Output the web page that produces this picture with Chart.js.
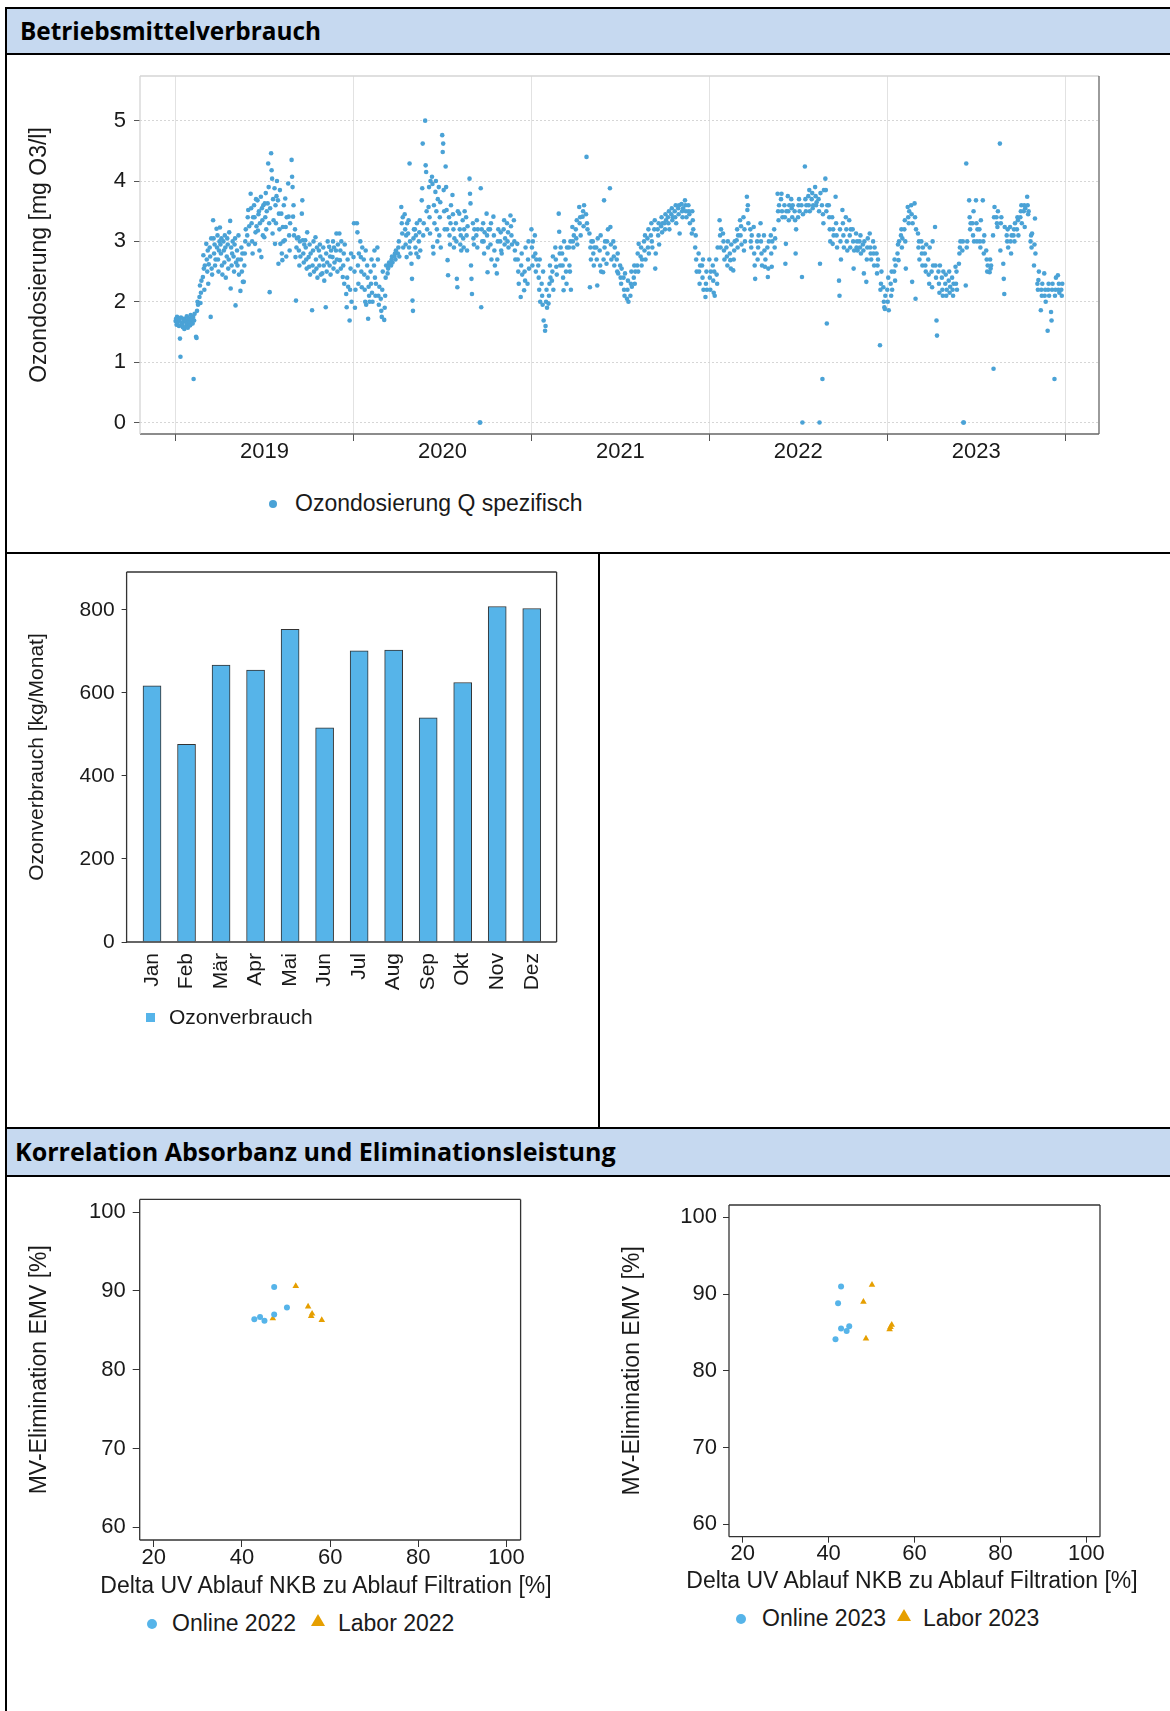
<!DOCTYPE html>
<html lang="de">
<head>
<meta charset="utf-8">
<title>Betriebsmittelverbrauch</title>
<script src="https://cdn.jsdelivr.net/npm/chart.js@4/dist/chart.umd.min.js"></script>
<style>
  html, body { margin: 0; padding: 0; background: #fff; }
  body { width: 1170px; height: 1711px; position: relative; overflow: hidden;
         font-family: "Liberation Sans", Arial, sans-serif; color: #1a1a1a; }
  .rule { position: absolute; background: #000; }
  .band { position: absolute; background: #c6d9f0; display: flex; align-items: center; }
  .head { font-family: "Open Sans", "Noto Sans", sans-serif; font-weight: 700; color: #000;
          white-space: nowrap; line-height: 1; font-size: 24px; }
  canvas { position: absolute; }
  .leg { position: absolute; white-space: nowrap; line-height: 1; color: #1a1a1a; }
  .axt { position: absolute; white-space: nowrap; line-height: 1; color: #1a1a1a; font-size: 23px;
         transform: translateX(-50%); }
  .mk { position: absolute; }
</style>
</head>
<body>

<!-- frame and section headers -->
<div class="rule" style="left:5px; top:7px; width:1165px; height:2px;"></div>
<div class="rule" style="left:5px; top:7px; width:2px; height:1704px;"></div>
<div class="band" style="left:7px; top:9px; width:1163px; height:44px;">
  <span class="head" data-w="301" style="margin-left:13px;">Betriebsmittelverbrauch</span>
</div>
<div class="rule" style="left:5px; top:53px; width:1165px; height:2px;"></div>
<div class="rule" style="left:5px; top:552px; width:1165px; height:2px;"></div>
<div class="rule" style="left:598px; top:554px; width:1.5px; height:574px;"></div>
<div class="rule" style="left:5px; top:1127px; width:1165px; height:2px;"></div>
<div class="band" style="left:7px; top:1129px; width:1163px; height:46px;">
  <span class="head" data-w="601" style="margin-left:8px;">Korrelation Absorbanz und Eliminationsleistung</span>
</div>
<div class="rule" style="left:5px; top:1175px; width:1165px; height:2px;"></div>

<canvas id="cDose" width="1150" height="430" style="left:10px; top:60px;"></canvas>
<canvas id="cMonat" width="560" height="560" style="left:8px; top:560px;"></canvas>
<canvas id="cKorr22" width="560" height="420" style="left:8px; top:1185px;"></canvas>
<canvas id="cKorr23" width="570" height="420" style="left:600px; top:1185px;"></canvas>

<!-- x-axis titles of the correlation plots (wider than their plot areas) -->
<div class="axt" style="left:326px; top:1574px;">Delta UV Ablauf NKB zu Ablauf Filtration [%]</div>
<div class="axt" style="left:912px; top:1569px;">Delta UV Ablauf NKB zu Ablauf Filtration [%]</div>

<!-- legends -->
<div class="mk" style="left:269px; top:500px; width:8px; height:8px; border-radius:50%; background:#4aa2d6;"></div>
<div class="leg" style="left:295px; top:492px; font-size:23px;">Ozondosierung Q spezifisch</div>

<div class="mk" style="left:146px; top:1013px; width:9px; height:9px; background:#56B4E9;"></div>
<div class="leg" style="left:169px; top:1006px; font-size:21px;">Ozonverbrauch</div>

<div class="mk" style="left:147px; top:1619px; width:10px; height:10px; border-radius:50%; background:#56B4E9;"></div>
<div class="leg" style="left:172px; top:1612px; font-size:23px;">Online 2022</div>
<svg class="mk" style="left:311px; top:1614px;" width="14" height="13"><polygon points="7,0 14,12 0,12" fill="#E69F00"/></svg>
<div class="leg" style="left:338px; top:1612px; font-size:23px;">Labor 2022</div>

<div class="mk" style="left:736px; top:1614px; width:10px; height:10px; border-radius:50%; background:#56B4E9;"></div>
<div class="leg" style="left:762px; top:1607px; font-size:23px;">Online 2023</div>
<svg class="mk" style="left:897px; top:1609px;" width="14" height="13"><polygon points="7,0 14,12 0,12" fill="#E69F00"/></svg>
<div class="leg" style="left:923px; top:1607px; font-size:23px;">Labor 2023</div>

<script>
// ---------------------------------------------------------------
// Spezifische Ozondosierung [mg O3/l], Tageswerte.
// Jede Zeile: [Kalenderwoche ab 0, Tageswerte der Woche ...]
// ---------------------------------------------------------------
const ozon2019 = [
  [0,1.68,1.72,1.62,1.75,1.66,1.70],[1,1.60,1.70,1.39,1.09,1.74,1.65],[2,1.62,1.58,1.72,1.67,1.55,1.70],
  [3,1.68,1.60,1.76,1.64,1.57,1.71],[4,1.72,1.66,1.61,1.78,1.70],[5,1.64,1.75,0.72,1.69,1.80],
  [6,1.42,1.40,1.85,2.00,1.95],[7,2.08,2.27,1.98,2.15,2.35],[8,2.41,2.77,2.55,2.20,2.60],
  [9,2.96,2.70,2.50,2.85,2.30,2.62],[10,2.90,2.75,1.75,3.05,2.55,2.45],[11,3.35,3.05,2.80,2.95,2.60,2.70],
  [12,3.21,2.90,3.10,2.70,2.50,2.85,3.00],[13,3.23,2.95,2.80,3.05,2.60,2.45],[14,3.00,2.85,2.65,3.10,2.90,2.40],
  [15,2.75,3.05,2.95,2.55,2.70,3.15],[16,3.34,2.22,2.90,2.60,2.80,3.00],[17,2.75,2.50,2.95,3.05,1.94,2.65],
  [18,2.85,2.60,2.70,3.10,2.45],[19,2.18,2.70,2.90,2.50,2.80,2.33],[20,2.33,2.60,2.80,3.00,3.20],
  [21,3.10,3.40,3.52,2.95,3.25],[22,3.79,3.55,3.30,3.00,2.80,3.40],[23,3.60,3.40,2.96,3.15,3.70,3.25],
  [24,3.68,3.18,3.45,3.50,2.85,3.30],[25,3.74,2.74,3.55,3.35,3.10,3.60],[26,3.07,3.63,3.40,3.80,3.20,3.50],
  [27,3.63,4.29,3.90,3.30,2.16,3.55],[28,4.46,4.18,4.04,3.13,3.70,3.35],[29,3.88,2.96,3.60,3.30,3.75,4.00],
  [30,3.68,2.63,3.46,3.20,3.85,2.96],[31,3.46,2.80,2.69,3.24,3.00,3.60],[32,3.02,3.71,3.24,2.75,3.40],
  [33,3.96,3.41,3.10,2.85,3.30],[34,4.35,4.07,3.90,3.41,3.60,3.10],[35,3.20,2.74,2.02,2.90,3.05],
  [36,3.07,2.85,2.60,3.00,2.75],[37,3.46,3.68,3.02,2.80,2.65,2.95],[38,3.02,2.90,2.70,2.55,3.15],
  [39,2.74,2.58,2.95,2.45,2.80],[40,1.86,2.60,2.85,3.00,2.50],[41,3.07,2.70,2.55,2.90,2.40],
  [42,2.85,2.60,2.95,2.75,2.45],[43,2.47,2.70,2.90,2.60,2.35],[44,1.91,2.80,2.50,2.65,3.00],
  [45,2.91,2.60,2.75,2.45,2.85],[46,2.74,3.00,2.55,2.90,2.65],[47,2.85,3.13,2.70,2.50,2.95],
  [48,3.13,2.69,2.85,2.55,3.00],[49,2.41,2.60,2.80,2.30,2.95],[50,2.13,1.91,2.40,2.70,2.25],
  [51,1.69,2.20,2.55,2.80,2.00]
];
const ozon2020 = [
  [0,2.74,3.30,2.50,1.90,2.20],[1,3.30,3.15,2.60,2.30,2.80],[2,3.00,2.74,2.50,2.24,2.90],
  [3,2.70,2.45,2.20,2.00,2.85,1.95],[4,2.60,2.40,1.72,2.25,2.10,2.00],[5,2.50,2.30,2.70,2.15,2.00],
  [6,2.60,2.85,2.40,2.10,2.30],[7,2.90,2.70,2.10,1.95,2.25],[8,2.05,1.85,1.75,2.20,2.50],
  [9,1.70,1.90,2.10,2.40,2.60],[10,2.47,2.55,2.60,2.65],[11,2.60,2.70,2.75,2.65],
  [12,2.75,2.80,2.70,2.85],[13,2.80,2.90,3.00,2.75],[14,3.57,3.30,3.13,3.40,2.90],
  [15,3.45,3.20,2.95,3.10,2.74,3.30],[16,3.13,3.35,2.90,4.29,3.00,2.80],[17,2.63,2.38,2.02,1.85,3.05,3.20],
  [18,3.20,2.90,3.10,2.80,3.30],[19,2.74,3.00,3.15,3.35,2.85],[20,3.68,3.88,4.62,3.10,3.30],
  [21,5.00,4.26,4.15,3.50,3.20],[22,3.57,3.90,3.40,3.13,4.00],[23,4.07,3.95,2.91,2.80,3.60,3.30],
  [24,3.82,4.00,3.50,3.20,3.00,3.70],[25,3.90,3.10,3.40,3.65,2.90],[26,4.76,4.48,4.62,3.85,3.50,3.20],
  [27,4.24,3.90,3.52,3.20,2.69,2.44],[28,3.40,3.10,2.95,3.30,3.60],[29,3.77,3.45,3.20,2.90,3.05],
  [30,3.30,3.00,2.38,2.24,3.50],[31,3.46,3.20,2.95,3.10,2.85],[32,3.35,3.05,2.90,3.20,3.50],
  [33,3.40,3.10,2.85,3.25],[34,4.04,3.79,3.63,2.60,2.38,2.13],[35,3.30,3.05,2.95,3.20],
  [36,3.10,3.35,2.90,3.20],[37,0.00,0.00,3.88,1.91,3.20,3.00],[38,3.30,3.00,2.80,3.15],
  [39,3.46,3.10,2.49,2.90,3.20],[40,3.20,2.95,3.30,2.70],[41,3.41,3.10,2.85,2.60],
  [42,2.47,2.70,3.00,3.20],[43,3.00,3.15,2.85,2.80],[44,3.20,3.35,2.95,3.05],
  [45,3.30,3.00,3.15,2.90],[46,3.43,3.25,3.10,2.95],[47,3.35,3.00,2.85,2.70],
  [48,2.96,2.70,2.50,2.30],[49,2.08,2.60,2.80,2.45],[50,2.19,2.50,2.35,2.90],
  [51,2.30,2.70,3.00,2.55]
];
const ozon2021 = [
  [0,3.20,2.90,2.60,3.00,2.75],[1,3.10,2.80,2.50,2.70],[2,2.60,2.40,2.20,2.70,2.00],
  [3,2.30,2.10,1.95,2.50,1.69],[4,1.52,1.60,2.00,2.20,1.90],[5,1.97,2.10,2.30,2.60,2.40],
  [6,2.35,2.50,2.75,2.20],[7,2.90,2.70,2.58,2.45],[8,3.46,3.16,2.80,2.60,2.90],
  [9,2.80,2.60,2.40,2.19,3.00],[10,2.70,2.50,2.30,2.90],[11,2.90,2.60,2.50,3.00,2.20],
  [12,3.24,3.00,2.90,3.10],[13,3.20,3.05,3.35,2.95],[14,3.57,3.30,3.40,3.10],
  [15,3.41,3.50,3.25,3.60],[16,3.45,4.40,3.30,3.20],[17,3.13,2.24,2.90,2.70,3.00],
  [18,3.00,2.80,2.60,2.90],[19,2.90,2.70,2.27,3.05],[20,2.85,2.60,3.10,2.50],
  [21,2.49,2.70,3.68,2.90,3.00],[22,2.63,3.00,2.80,3.20],[23,3.88,3.24,2.95,2.70],
  [24,3.00,2.75,2.60,2.90],[25,2.70,2.50,2.80,2.47],[26,2.60,2.40,2.30,2.55],
  [27,2.40,2.20,2.10,2.47],[28,2.05,2.20,2.35,2.00],[29,2.10,2.30,2.50,2.25],
  [30,2.40,2.60,2.30,2.50],[31,2.60,2.80,2.50,2.96],[32,2.75,2.90,2.60,2.70],
  [33,3.00,2.85,3.10,2.70],[34,3.05,2.90,3.20,2.80],[35,3.10,3.30,3.00,2.90],
  [36,3.20,3.35,2.55,2.80],[37,3.20,3.10,3.30,2.95],[38,3.25,3.40,3.15,3.30],
  [39,3.30,3.20,3.45,3.35],[40,3.40,3.30,3.50,3.20],[41,3.45,3.55,3.35,3.40],
  [42,3.50,3.40,3.60,3.30],[43,3.55,3.45,3.60,3.13],[44,3.62,3.50,3.40,3.55],
  [45,3.68,3.60,3.50,3.40],[46,3.60,3.50,3.45,3.30],[47,3.13,3.50,3.35,3.20],
  [48,2.90,3.10,2.70,2.50],[49,2.80,2.50,2.30,2.60],[50,2.60,2.40,2.70,2.20],
  [51,2.08,2.30,2.50,2.20]
];
const ozon2022 = [
  [0,2.70,2.40,2.20,2.50],[1,2.60,2.35,2.15,2.50,2.10],[2,2.70,2.45,2.30,2.90],
  [3,3.35,3.10,2.90,3.20],[4,3.13,3.00,2.85,2.70],[5,2.90,2.75,2.60,3.00],
  [6,2.80,2.69,2.55,2.95],[7,2.52,2.70,2.85,3.00],[8,3.02,3.20,2.90,3.10],
  [9,3.35,3.10,3.25,2.95],[10,3.40,2.85,3.20,3.00],[11,3.74,3.52,3.60,3.30],
  [12,3.20,3.00,2.90,3.10],[13,3.24,2.80,2.60,2.38],[14,3.00,2.70,2.90,3.10],
  [15,3.30,3.00,2.80,2.60],[16,3.10,2.85,2.58,2.70],[17,2.90,2.41,2.55,3.00],
  [18,3.10,2.80,2.58,3.00],[19,3.20,2.90,3.05],[20,3.79,3.50,3.35,3.60],
  [21,3.70,3.79,3.50,3.40],[22,3.60,3.40,2.63,2.96,3.50],[23,3.75,3.50,3.35,3.60],
  [24,3.70,3.55,3.40,3.60],[25,3.50,3.35,2.80,3.20],[26,3.40,3.60,3.70,3.50],
  [27,3.60,2.41,0.00,3.45],[28,4.24,3.70,3.50,3.60],[29,3.75,3.60,3.85,3.50],
  [30,3.70,3.80,3.55,3.60],[31,3.90,3.75,3.60,3.65],[32,3.70,3.50,0.00,2.63,3.80],
  [33,3.60,0.72,3.45,3.30,3.85],[34,4.04,3.85,3.50,1.64,3.60],[35,3.60,3.40,3.20,3.00],
  [36,3.40,2.96,3.20,3.10],[37,3.74,3.30,3.10,2.90],[38,2.35,2.10,3.20,3.00,2.70],
  [39,3.52,3.30,3.10,2.90],[40,3.40,3.20,3.00,2.85],[41,3.35,3.10,2.90,3.20],
  [42,3.20,3.00,2.55,2.85],[43,3.13,2.90,3.00,2.85],[44,3.00,2.90,3.10,2.80],
  [45,2.95,2.85,2.47,3.00],[46,2.33,2.70,2.90,3.05],[47,3.13,2.90,2.80,2.70],
  [48,3.00,2.80,2.60,2.90],[49,2.80,2.47,2.60,2.70],[50,1.28,2.20,2.30,2.50],
  [51,2.24,2.00,1.91,1.88,2.10]
];
const ozon2023 = [
  [0,2.20,2.00,2.40,1.86],[1,2.30,2.10,2.50,2.20],[2,2.50,2.70,2.35,2.60],
  [3,2.80,2.95,2.69,3.00],[4,3.10,3.20,2.90,3.05],[5,3.20,3.35,3.00,2.55],
  [6,3.57,3.40,3.30,3.50],[7,3.60,3.45,2.33,3.30],[8,3.63,3.40,2.05,3.20],
  [9,3.13,2.90,3.00,2.70],[10,3.00,2.80,2.60,2.90],[11,2.80,2.60,2.50,2.95],
  [12,2.70,2.45,2.30,2.90],[13,2.50,2.24,3.00,2.60],[14,3.24,2.60,2.40,1.69,1.44],
  [15,2.50,2.30,2.15,2.60],[16,2.40,2.20,2.10,2.50],[17,2.30,2.45,2.10,2.20],
  [18,2.35,2.50,2.15,2.25],[19,2.40,2.20,2.10,2.30],[20,2.58,2.30,2.50,2.20],
  [21,2.63,2.80,2.90,3.00],[22,2.85,3.00,0.00,0.00],[23,2.27,4.29,2.90,3.00],
  [24,3.68,3.40,3.20,3.30],[25,3.30,3.10,3.50,3.00],[26,3.68,3.30,3.00,3.20],
  [27,3.20,3.00,2.90,3.35],[28,3.68,3.00,2.80,3.10],[29,2.85,2.70,2.50,2.60],
  [30,2.49,2.70,2.55,2.60],[31,3.10,0.89,3.40,3.57],[32,3.40,3.30,3.24,3.50],
  [33,4.62,2.85,3.30,3.40],[34,2.63,2.38,2.13,3.24],[35,3.10,3.00,3.20,2.90],
  [36,3.24,3.00,2.80,3.10],[37,3.10,3.20,3.00,3.30],[38,3.20,3.40,3.35,3.10],
  [39,3.40,3.50,3.60,3.30],[40,3.50,3.60,3.24,3.55],[41,3.74,3.60,3.45,3.50],
  [42,3.00,3.10,2.90,3.13],[43,2.60,2.95,3.38,2.80],[44,2.30,2.20,2.36,2.50],
  [45,1.86,2.20,2.10,2.30],[46,2.47,2.10,2.20,2.00],[47,1.52,2.20,2.30,2.10],
  [48,1.83,1.69,2.20,2.30],[49,0.72,2.10,2.20,2.40],[50,2.44,2.20,2.30,2.15],
  [51,2.20,2.10,2.30]
];
const doseByYear = { 2019: ozon2019, 2020: ozon2020, 2021: ozon2021, 2022: ozon2022, 2023: ozon2023 };
const yearTicks = [2019, 2019.5, 2020, 2020.5, 2021, 2021.5, 2022, 2022.5, 2023, 2023.5, 2024];
const doseTicks = [0, 1, 2, 3, 4, 5];

// Monatlicher Ozonverbrauch [kg/Monat]
const monate = ['Jan', 'Feb', 'Mär', 'Apr', 'Mai', 'Jun', 'Jul', 'Aug', 'Sep', 'Okt', 'Nov', 'Dez'];
const ozonverbrauch = [617, 476, 667, 655, 753, 516, 701, 703, 540, 625, 808, 803];
const verbrauchTicks = [0, 200, 400, 600, 800];

// Delta UV [%] gegen MV-Elimination EMV [%]
const online2022 = [[47.3, 90.5], [50.2, 87.9], [47.3, 87.0], [42.8, 86.4], [44.1, 86.7], [45.1, 86.2]];
const labor2022  = [[52.2, 90.6], [55.0, 88.0], [55.9, 87.1], [55.7, 86.8], [58.1, 86.3], [47.0, 86.5]];
const online2023 = [[42.9, 91.0], [42.2, 88.8], [42.9, 85.5], [44.8, 85.8], [44.2, 85.2], [41.6, 84.1]];
const labor2023  = [[50.1, 91.2], [48.1, 89.0], [48.7, 84.2], [54.4, 85.7], [54.7, 86.0], [54.2, 85.4]];
const uvTicks = [20, 40, 60, 80, 100];
const emvTicks = [60, 70, 80, 90, 100];

// ---------------------------------------------------------------
// header text fitted to its measured width
document.querySelectorAll('.head').forEach(el => {
  const w = el.getBoundingClientRect().width;
  el.style.fontSize = (24 * (+el.dataset.w) / w).toFixed(2) + 'px';
});

const FONT = '"Liberation Sans", Arial, sans-serif';
Chart.defaults.font.family = FONT;
Chart.defaults.color = '#1a1a1a';

// box around the plot area, each side with its own colour
const framePlugin = {
  id: 'frame',
  afterDraw(chart, args, o) {
    const { ctx, chartArea: a } = chart;
    ctx.save();
    ctx.lineWidth = o.width || 1.3;
    const side = (c, x1, y1, x2, y2) => {
      ctx.strokeStyle = c; ctx.beginPath(); ctx.moveTo(x1, y1); ctx.lineTo(x2, y2); ctx.stroke();
    };
    side(o.top, a.left, a.top, a.right, a.top);
    side(o.right, a.right, a.top, a.right, a.bottom);
    side(o.bottom, a.left, a.bottom, a.right, a.bottom);
    side(o.left, a.left, a.top, a.left, a.bottom);
    ctx.restore();
  }
};
const box = c => ({ top: c, right: c, bottom: c, left: c, width: 1.3 });
const fixedTicks = list => s => { s.ticks = list.map(v => ({ value: v })); };
// fixed axis band size; label overhang is left to the layout padding
const fixSize = (prop, size) => s => {
  s[prop] = size;
  s.paddingTop = 0; s.paddingBottom = 0; s.paddingLeft = 0; s.paddingRight = 0;
};
const base = { animation: false, responsive: false, events: [] };

// ---- Ozondosierung über die Zeit ----
const dosePoints = [];
Object.keys(doseByYear).forEach(yr => {
  doseByYear[yr].forEach(row => {
    const week = row[0];
    row.slice(1).forEach((v, d) => {
      dosePoints.push({ x: +yr + (week * 7 + d) / 365, y: v });
    });
  });
});
const isYear = c => c.tick && Number.isInteger(c.tick.value);

new Chart(document.getElementById('cDose'), {
  type: 'scatter',
  data: { datasets: [{ label: 'Ozondosierung Q spezifisch', data: dosePoints,
    pointRadius: 2.3, pointHoverRadius: 2.3, backgroundColor: '#4aa2d6', borderWidth: 0 }] },
  options: {
    ...base,
    layout: { autoPadding: false, padding: { left: 0, right: 61, top: 16, bottom: 0 } },
    plugins: { legend: { display: false }, tooltip: { enabled: false },
      frame: { top: '#d4d4d4', left: '#d4d4d4', right: '#666', bottom: '#666', width: 1.3 } },
    scales: {
      x: { type: 'linear', min: 2018.80, max: 2024.19,
        afterBuildTicks: fixedTicks(yearTicks), afterFit: fixSize('height', 56),
        ticks: { autoSkip: false, maxRotation: 0, padding: 0, font: { size: 22, lineHeight: 1 },
          callback: v => Number.isInteger(v) ? '' : String(Math.floor(v)) },
        grid: { color: c => isYear(c) ? '#e2e2e2' : 'rgba(0,0,0,0)',
          tickColor: c => isYear(c) ? '#555' : 'rgba(0,0,0,0)', tickLength: 7, lineWidth: 1 },
        border: { display: false } },
      y: { min: -0.19, max: 5.74,
        afterBuildTicks: fixedTicks(doseTicks), afterFit: fixSize('width', 130),
        ticks: { padding: 8, font: { size: 22, lineHeight: 1 } },
        grid: { color: '#d6d6d6', tickColor: '#555', tickLength: 6, lineWidth: 1 },
        border: { display: false, dash: [2, 2] },
        title: { display: true, text: 'Ozondosierung [mg O3/l]', font: { size: 23 }, padding: { top: 16, bottom: 0 } } }
    }
  },
  plugins: [framePlugin]
});

// ---- Ozonverbrauch pro Monat ----
new Chart(document.getElementById('cMonat'), {
  type: 'bar',
  data: { datasets: [{ label: 'Ozonverbrauch', data: ozonverbrauch.map((v, i) => ({ x: i, y: v })),
    backgroundColor: '#56B4E9', borderColor: '#333', borderWidth: 1, barThickness: 18 }] },
  options: {
    ...base,
    layout: { autoPadding: false, padding: { left: 0, right: 11.4, top: 12, bottom: 108 } },
    plugins: { legend: { display: false }, tooltip: { enabled: false }, frame: box('#333') },
    scales: {
      x: { type: 'linear', offset: false, min: -0.736, max: 11.72,
        afterBuildTicks: fixedTicks(monate.map((m, i) => i)), afterFit: fixSize('height', 70),
        ticks: { autoSkip: false, minRotation: 90, maxRotation: 90, padding: 11, font: { size: 21 },
          callback: v => monate[v] },
        grid: { display: false, drawTicks: false }, border: { display: false } },
      y: { min: 0, max: 891,
        afterBuildTicks: fixedTicks(verbrauchTicks), afterFit: fixSize('width', 118.6),
        ticks: { padding: 7, font: { size: 21, lineHeight: 1 } },
        grid: { drawOnChartArea: false, tickColor: '#333', tickLength: 5 },
        border: { display: false },
        title: { display: true, text: 'Ozonverbrauch [kg/Monat]', font: { size: 21 }, padding: { top: 17, bottom: 0 } } }
    }
  },
  plugins: [framePlugin]
});

// ---- Korrelation Absorbanz / Elimination ----
function korrelation(id, online, labor, yearLabel, geo) {
  const pts = a => a.map(p => ({ x: p[0], y: p[1] }));
  new Chart(document.getElementById(id), {
    type: 'scatter',
    data: { datasets: [
      { label: 'Online ' + yearLabel, data: pts(online), pointStyle: 'circle', pointRadius: 3,
        pointHoverRadius: 3, backgroundColor: '#56B4E9', borderWidth: 0 },
      { label: 'Labor ' + yearLabel, data: pts(labor), pointStyle: 'triangle', pointRadius: 3.8,
        pointHoverRadius: 3.8, backgroundColor: '#E69F00', borderWidth: 0 }
    ] },
    options: {
      ...base,
      layout: { autoPadding: false, padding: { left: 0, right: geo.right, top: geo.top, bottom: 0 } },
      plugins: { legend: { display: false }, tooltip: { enabled: false }, frame: box('#333') },
      scales: {
        x: { type: 'linear', min: 16.8, max: 103.2,
          afterBuildTicks: fixedTicks(uvTicks), afterFit: fixSize('height', geo.xh),
          ticks: { autoSkip: false, maxRotation: 0, padding: 0, font: { size: 22, lineHeight: 1 } },
          grid: { drawOnChartArea: false, tickColor: '#333', tickLength: geo.tl },
          border: { display: false } },
        y: { min: 58.4, max: 101.6,
          afterBuildTicks: fixedTicks(emvTicks), afterFit: fixSize('width', geo.yw),
          ticks: { padding: geo.tl, font: { size: 22, lineHeight: 1 } },
          grid: { drawOnChartArea: false, tickColor: '#333', tickLength: geo.tl },
          border: { display: false },
          title: { display: true, text: 'MV-Elimination EMV [%]', font: { size: 23 },
            padding: { top: geo.ytp, bottom: 0 } } }
      }
    },
    plugins: [framePlugin]
  });
}
korrelation('cKorr22', online2022, labor2022, '2022', { right: 47.4, top: 14.4, xh: 65, yw: 131.7, tl: 7, ytp: 18 });
korrelation('cKorr23', online2023, labor2023, '2023', { right: 70, top: 20, xh: 68.3, yw: 129, tl: 6, ytp: 19 });
</script>
</body>
</html>
